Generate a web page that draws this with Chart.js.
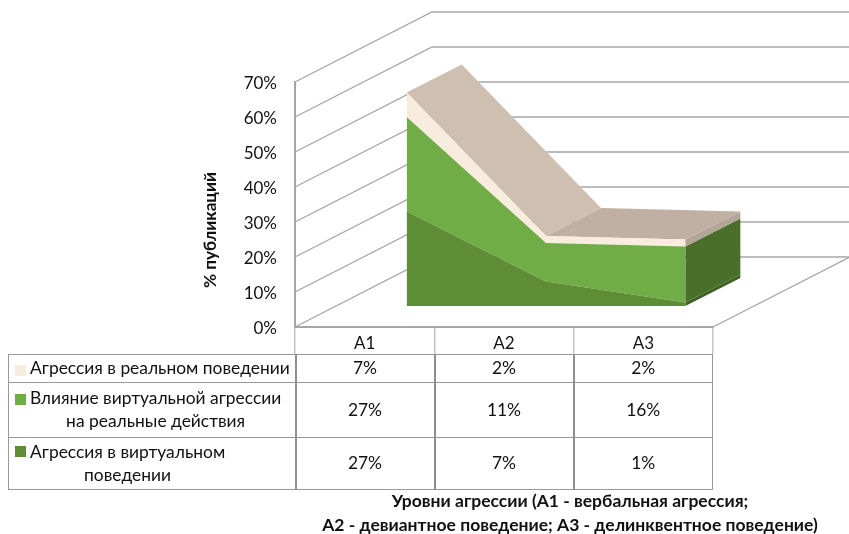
<!DOCTYPE html>
<html>
<head>
<meta charset="utf-8">
<script src="https://cdn.jsdelivr.net/npm/chart.js@4"></script>
<style>
  html, body { margin: 0; padding: 0; background: #fff; }
  body { width: 849px; height: 534px; position: relative; overflow: hidden; font-family: Lato, "Open Sans", sans-serif; color: #111; }
  #myChart { position: absolute; left: 0; top: 0; }
  #dataTable { position: absolute; left: 8px; top: 354px; border-collapse: collapse; table-layout: fixed; width: 704px; font-size: 17.4px; }
  #dataTable td { border: 1px solid #999; border-left: 2px solid #8f8f8f; border-right: 2px solid #8f8f8f; padding: 0 0 2px 0; text-align: center; line-height: 23px; }
  #dataTable td:first-child { border-left: 1px solid #999; text-align: left; position: relative; }
  #dataTable td:last-child { border-right: 1px solid #999; }
  .swatch { position: absolute; left: 6px; width: 11px; height: 11px; }
  .name { display: inline-block; margin-left: 21px; text-align: center; white-space: nowrap; }
  #xTitle { position: absolute; left: 290px; width: 560px; top: 489px; text-align: center; font-weight: bold; font-size: 17.5px; line-height: 24px; }
</style>
</head>
<body>
<canvas id="myChart" width="849" height="534"></canvas>
<table id="dataTable"></table>
<div id="xTitle"></div>
<script>
// data
const categories = ['А1', 'А2', 'А3'];
const virtualBehavior = [27, 7, 1];
const virtualInfluence = [27, 11, 16];
const realBehavior = [7, 2, 2];
const yTicks = [0, 10, 20, 30, 40, 50, 60, 70];

const nameReal = ['Агрессия в реальном поведении'];
const nameInfluence = ['Влияние виртуальной агрессии', 'на реальные действия'];
const nameVirtual = ['Агрессия в виртуальном', 'поведении'];
const yTitle = '% публикаций';
const xTitle = ['Уровни агрессии (А1 - вербальная агрессия;', 'А2 - девиантное поведение; А3 - делинквентное поведение)'];

const colorReal = '#f8ecdf';
const colorInfluence = '#70ad47';
const colorVirtual = '#5e8d35';
const fontName = 'Lato, "Open Sans", sans-serif';

// fake 3d: wall depth and where the area body sits inside it
const wall = { dx: 137, dy: -70 };
const body = { dx: 42, dy: -21, depthX: 55, depthY: -28 };

function poly(ctx, pts, fill) {
  ctx.beginPath();
  pts.forEach((p, i) => i ? ctx.lineTo(p[0], p[1]) : ctx.moveTo(p[0], p[1]));
  ctx.closePath();
  ctx.fillStyle = fill;
  ctx.fill();
}

const box3d = {
  id: 'box3d',
  beforeDatasetsDraw(chart) {
    const ctx = chart.ctx, x = chart.scales.x, y = chart.scales.y;
    const left = chart.chartArea.left, right = chart.chartArea.right, bottom = chart.chartArea.bottom;

    // walls
    ctx.save();
    ctx.strokeStyle = '#a6a6a6';
    ctx.lineWidth = 1.3;
    yTicks.forEach(t => {
      const py = y.getPixelForValue(t);
      ctx.beginPath();
      ctx.moveTo(left, py);
      ctx.lineTo(left + wall.dx, py + wall.dy);
      ctx.lineTo(right + wall.dx, py + wall.dy);
      ctx.stroke();
    });
    ctx.beginPath();
    ctx.moveTo(right, bottom);
    ctx.lineTo(right + wall.dx, bottom + wall.dy);
    ctx.stroke();
    ctx.restore();

    // body surfaces, positions come from the scales
    const front = (i, v) => [x.getPixelForValue(i) + body.dx, y.getPixelForValue(v) + body.dy];
    const back = (i, v) => { const p = front(i, v); return [p[0] + body.depthX, p[1] + body.depthY]; };
    const last = categories.length - 1;
    const bottoms = [0, virtualBehavior[last], virtualBehavior[last] + virtualInfluence[last]];
    const tops = bottoms.map((b, i) => b + [virtualBehavior, virtualInfluence, realBehavior][i][last]);
    const sideColors = ['#3f5f25', '#4a6f2b', '#b3a598'];
    tops.forEach((t, i) => {
      poly(ctx, [front(last, bottoms[i]), back(last, bottoms[i]), back(last, t), front(last, t)], sideColors[i]);
    });
    const topColors = ['#cfbfb0', '#bfb0a3'];
    for (let i = 0; i < last; i++) {
      const a = virtualBehavior[i] + virtualInfluence[i] + realBehavior[i];
      const b = virtualBehavior[i + 1] + virtualInfluence[i + 1] + realBehavior[i + 1];
      poly(ctx, [front(i, a), back(i, a), back(i + 1, b), front(i + 1, b)], topColors[i]);
    }

    // front face is drawn by the line datasets, just moved into the box
    ctx.save();
    ctx.translate(body.dx, body.dy);
  },
  afterDatasetsDraw(chart) {
    chart.ctx.restore();
  },
  afterDraw(chart) {
    // y title sits lower than the scale title option allows
    const ctx = chart.ctx;
    ctx.save();
    ctx.translate(210, 230);
    ctx.rotate(-Math.PI / 2);
    ctx.font = 'bold 17.2px ' + fontName;
    ctx.fillStyle = '#111';
    ctx.textAlign = 'center';
    ctx.textBaseline = 'middle';
    ctx.fillText(yTitle, 0, 0);
    ctx.restore();
  }
};

const config = {
  type: 'line',
  data: {
    labels: categories,
    datasets: [
      { label: nameVirtual.join(' '), data: virtualBehavior, backgroundColor: colorVirtual, fill: 'origin' },
      { label: nameInfluence.join(' '), data: virtualInfluence, backgroundColor: colorInfluence, fill: '-1' },
      { label: nameReal.join(' '), data: realBehavior, backgroundColor: colorReal, fill: '-1' }
    ]
  },
  options: {
    responsive: false,
    animation: false,
    clip: false,
    layout: { padding: { top: 82, right: 136, left: 0, bottom: 0 } },
    elements: { line: { borderWidth: 0, tension: 0 }, point: { radius: 0 } },
    plugins: { legend: { display: false }, tooltip: { enabled: false } },
    scales: {
      x: {
        offset: true,
        afterFit: s => { s.height = 207; },
        border: { display: true, color: '#a6a6a6', width: 2 },
        grid: { offset: true, drawOnChartArea: false, drawTicks: true, tickLength: 27, color: '#c4c4c4', lineWidth: 1.5 },
        ticks: { padding: -21, maxRotation: 0, autoSkip: false, color: '#111', font: { family: fontName, size: 17 } }
      },
      y: {
        stacked: true,
        min: 0,
        max: 70,
        afterFit: s => { s.width = 295; },
        border: { display: true, color: '#a6a6a6', width: 2 },
        grid: { display: false, drawTicks: false },
        ticks: { stepSize: 10, padding: 18, labelOffset: 2, color: '#111', callback: v => v + '%', font: { family: fontName, size: 17 } }
      }
    }
  },
  plugins: [box3d]
};

const myChart = new Chart(document.getElementById('myChart'), config);

// table under the chart
const rows = [
  { name: nameReal, color: colorReal, values: realBehavior },
  { name: nameInfluence, color: colorInfluence, values: virtualInfluence },
  { name: nameVirtual, color: colorVirtual, values: virtualBehavior }
];
const rowHeights = [28, 55, 52];
const swatchTops = [10, 11, 8];
let html = '<colgroup><col style="width:287px"><col style="width:139px"><col style="width:139px"><col style="width:139px"></colgroup>';
rows.forEach((r, i) => {
  html += '<tr style="height:' + rowHeights[i] + 'px"><td><span class="swatch" style="top:' + swatchTops[i] + 'px;background:' + r.color + '"></span>' +
    '<span class="name">' + r.name.join('<br>') + '</span></td>' +
    r.values.map(v => '<td>' + v + '%</td>').join('') + '</tr>';
});
document.getElementById('dataTable').innerHTML = html;
document.getElementById('xTitle').innerHTML = xTitle.join('<br>');
</script>
</body>
</html>
